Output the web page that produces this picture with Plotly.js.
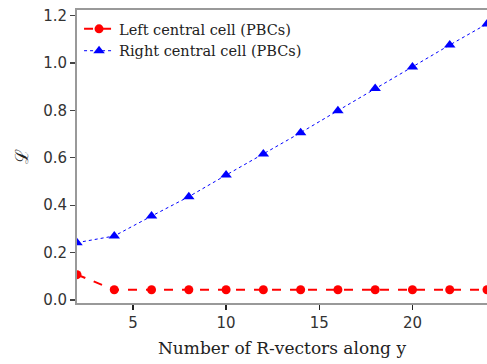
<!DOCTYPE html>
<html>
<head>
<meta charset="utf-8">
<script src="https://cdn.plot.ly/plotly-3.0.1.min.js"></script>
<style>html,body{margin:0;padding:0;background:#fff;}#chart{width:487px;height:364px;}</style>
</head>
<body>
<div id="chart"></div>
<script>
const xValues = [2, 4, 6, 8, 10, 12, 14, 16, 18, 20, 22, 24];
const leftCell = [0.107, 0.043, 0.043, 0.043, 0.043, 0.043, 0.043, 0.043, 0.043, 0.043, 0.043, 0.043];
const rightCell = [0.242, 0.270, 0.354, 0.436, 0.527, 0.616, 0.706, 0.799, 0.892, 0.983, 1.076, 1.165];
const seriesNames = ["Left central cell (PBCs)", "Right central cell (PBCs)"];
const xTicks = [5, 10, 15, 20];
const yTicks = [0.0, 0.2, 0.4, 0.6, 0.8, 1.0, 1.2];

const traces = [
  {
    x: xValues, y: leftCell, name: seriesNames[0], type: "scatter", mode: "lines+markers",
    line: {color: "#ff0000", width: 2, dash: "dash"},
    marker: {color: "#ff0000", symbol: "circle", size: 9}
  },
  {
    x: xValues, y: rightCell, name: seriesNames[1], type: "scatter", mode: "lines+markers",
    line: {color: "#0000ff", width: 1, dash: "dot"},
    marker: {color: "#0000ff", symbol: "triangle-up", size: 10}
  }
];

const layout = {
  width: 487, height: 364,
  margin: {l: 77, r: 0, t: 10, b: 61},
  paper_bgcolor: "#fff", plot_bgcolor: "#fff",
  showlegend: true,
  legend: {
    x: 0.005, y: 0.99, xanchor: "left", yanchor: "top",
    bgcolor: "rgba(255,255,255,0)", borderwidth: 0,
    font: {family: "DejaVu Serif, serif", size: 14.5, color: "#222"},
    tracegroupgap: 0, itemwidth: 30
  },
  xaxis: {
    range: [2, 24], tickvals: xTicks, ticktext: xTicks.map(String),
    showgrid: false, zeroline: false, showline: true, linecolor: "#999", linewidth: 2,
    mirror: true,
    ticks: "outside", ticklen: 5, tickwidth: 1.2, tickcolor: "#222",
    tickfont: {family: "DejaVu Sans, sans-serif", size: 15, color: "#333"},
    title: {text: "Number of R-vectors along y", font: {family: "DejaVu Serif, serif", size: 17, color: "#222"}, standoff: 11}
  },
  yaxis: {
    range: [-0.0127, 1.2236], tickvals: yTicks, ticktext: yTicks.map(v => v.toFixed(1)),
    showgrid: false, zeroline: false, showline: true, linecolor: "#999", linewidth: 2,
    ticks: "outside", ticklen: 5, tickwidth: 1.2, tickcolor: "#444",
    tickfont: {family: "DejaVu Sans, sans-serif", size: 15, color: "#333"},
    title: {text: "ℒ", font: {family: "DejaVu Serif, serif", size: 18, color: "#222"}, standoff: 10}
  }
};

Plotly.newPlot("chart", traces, layout, {staticPlot: true, displayModeBar: false});
</script>
</body>
</html>
